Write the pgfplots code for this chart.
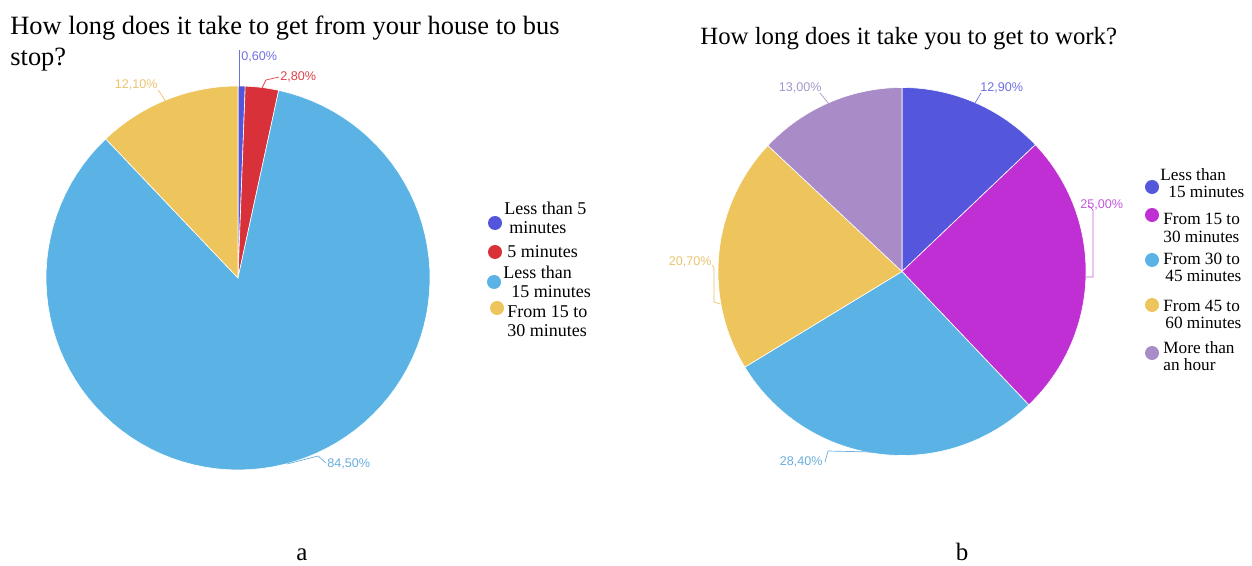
\documentclass[border=0pt]{standalone}
\usepackage{pgfplots}
\pgfplotsset{compat=1.18}
\usepackage{pgfplotstable}
\usepackage{fontspec}
\setmainfont{Liberation Serif}
\newfontfamily\pctfont{Liberation Sans}

\definecolor{cBlueA}{HTML}{5356DA}
\definecolor{cRed}{HTML}{D8313A}
\definecolor{cLBlue}{HTML}{5AB3E4}
\definecolor{cYellow}{HTML}{EEC45C}
\definecolor{cBlueB}{HTML}{5457DC}
\definecolor{cMagenta}{HTML}{BF2FD3}
\definecolor{cPurple}{HTML}{A98CC7}
\definecolor{tBlue}{HTML}{6E70E2}
\definecolor{tRed}{HTML}{E04048}
\definecolor{tLBlue}{HTML}{6AAEDC}
\definecolor{tYellow}{HTML}{E9C46E}
\definecolor{tMagenta}{HTML}{C458DC}
\definecolor{tPurple}{HTML}{A696CC}

\pgfplotstableread{
value color
0.6 cBlueA
2.8 cRed
84.5 cLBlue
12.1 cYellow
}\busdata

\pgfplotstableread{
value color
12.9 cBlueB
25.0 cMagenta
28.4 cLBlue
20.7 cYellow
13.0 cPurple
}\workdata

\newcommand{\pieslices}[1]{%
  \pgfplotstablegetrowsof{#1}%
  \pgfmathtruncatemacro\lastrow{\pgfplotsretval-1}%
  \def\cum{0}%
  \pgfplotsforeachungrouped \i in {0,...,\lastrow}{%
    \pgfplotstablegetelem{\i}{value}\of{#1}\let\val\pgfplotsretval
    \pgfplotstablegetelem{\i}{color}\of{#1}\let\col\pgfplotsretval
    \pgfmathsetmacro\angA{90-3.6*\cum}%
    \pgfmathsetmacro\cum{\cum+\val}%
    \pgfmathsetmacro\angB{90-3.6*\cum}%
    \edef\temp{\noexpand\addplot[fill=\col, draw=white, line width=0.3pt, domain=\angB:\angA, samples=90] ({cos(x)},{sin(x)}) -- (axis cs:0,0) -- cycle;}%
    \temp
  }%
}

\pgfplotsset{pieaxis/.style={anchor=center, scale only axis, xmin=-1, xmax=1, ymin=-1, ymax=1, hide axis, clip=false}}

\begin{document}
\begin{tikzpicture}
\path[use as bounding box] (0,0) rectangle (626pt,-283pt);

\begin{axis}[pieaxis, at={(119pt,-139pt)}, width=192pt, height=192pt]
\pieslices{\busdata}
\end{axis}

\begin{axis}[pieaxis, at={(451pt,-135.75pt)}, width=184pt, height=184pt]
\pieslices{\workdata}
\end{axis}

\begin{scope}[x=0.5pt, y=-0.5pt]
% titles
\node[anchor=base west, inner sep=0pt, font=\fontsize{13.2}{15}\selectfont] at (10,35) {How long does it take to get from your house to bus};
\node[anchor=base west, inner sep=0pt, font=\fontsize{13.2}{15}\selectfont] at (10,66) {stop?};
\node[anchor=base west, inner sep=0pt, font=\fontsize{12.4}{15}\selectfont] at (700,45) {How long does it take you to get to work?};

% percentage labels, left pie
\begin{scope}[every node/.style={inner sep=0pt, font=\pctfont\fontsize{6.3}{7}\selectfont}, line width=0.35pt]
\draw[tBlue] (239.5,87) -- (239.5,50);
\node[anchor=west, text=tBlue] at (241,57) {0,60\%};
\draw[tRed] (262,88) -- (266,80) -- (279,77);
\node[anchor=west, text=tRed] at (280,77) {2,80\%};
\draw[tYellow] (166,102) -- (161,94) -- (158,90);
\node[anchor=east, text=tYellow] at (158,85) {12,10\%};
\draw[tLBlue] (287,464) -- (318,456) -- (326,463);
\node[anchor=west, text=tLBlue] at (327,464) {84,50\%};
% right pie
\draw[tBlue] (975,103) -- (981,93);
\node[anchor=west, text=tBlue] at (980,88) {12,90\%};
\draw[tMagenta] (1086,277) -- (1093,277) -- (1093,210) -- (1088,205);
\node[anchor=west, text=tMagenta] at (1080,205) {25,00\%};
\draw[tLBlue] (872,452) -- (828,451) -- (825,462);
\node[anchor=east, text=tLBlue] at (823,462) {28,40\%};
\draw[tYellow] (712,265) -- (714,268) -- (714,302) -- (720,304);
\node[anchor=east, text=tYellow] at (712,262) {20,70\%};
\draw[tPurple] (829,104) -- (820,93);
\node[anchor=east, text=tPurple] at (822,88) {13,00\%};
\end{scope}

% legend left
\begin{scope}[every node/.style={inner sep=0pt, anchor=west, align=left, font=\fontsize{9}{9.5}\selectfont}]
\fill[cBlueA] (495,223) circle (3.5pt);
\node at (504,218) {Less than 5\\\hspace*{2.5pt}minutes};
\fill[cRed] (495,252) circle (3.5pt);
\node at (507,252) {5 minutes};
\fill[cLBlue] (494,282) circle (3.5pt);
\node at (503,282) {Less than\\\hspace*{4pt}15 minutes};
\fill[cYellow] (497,308) circle (3.5pt);
\node at (507,321) {From 15 to\\30 minutes};
\end{scope}

% legend right
\begin{scope}[every node/.style={inner sep=0pt, anchor=west, align=left, font=\fontsize{8.6}{8.6}\selectfont}]
\fill[cBlueB] (1152,187) circle (3.5pt);
\node at (1160,183.5) {Less than\\\hspace*{4pt}15 minutes};
\fill[cMagenta] (1152,215) circle (3.5pt);
\node at (1163,228) {From 15 to\\30 minutes};
\fill[cLBlue] (1152,260) circle (3.5pt);
\node at (1163,267.5) {From 30 to\\\hspace*{1pt}45 minutes};
\fill[cYellow] (1152,305) circle (3.5pt);
\node at (1163,314.5) {From 45 to\\\hspace*{1pt}60 minutes};
\fill[cPurple] (1152,353) circle (3.5pt);
\node at (1163,356.5) {More than\\an hour};
\end{scope}

% sub-figure letters
\node[anchor=base, font=\fontsize{12.5}{15}\selectfont] at (302,560) {a};
\node[anchor=base, font=\fontsize{12.5}{15}\selectfont] at (962,560) {b};
\end{scope}
\end{tikzpicture}
\end{document}
